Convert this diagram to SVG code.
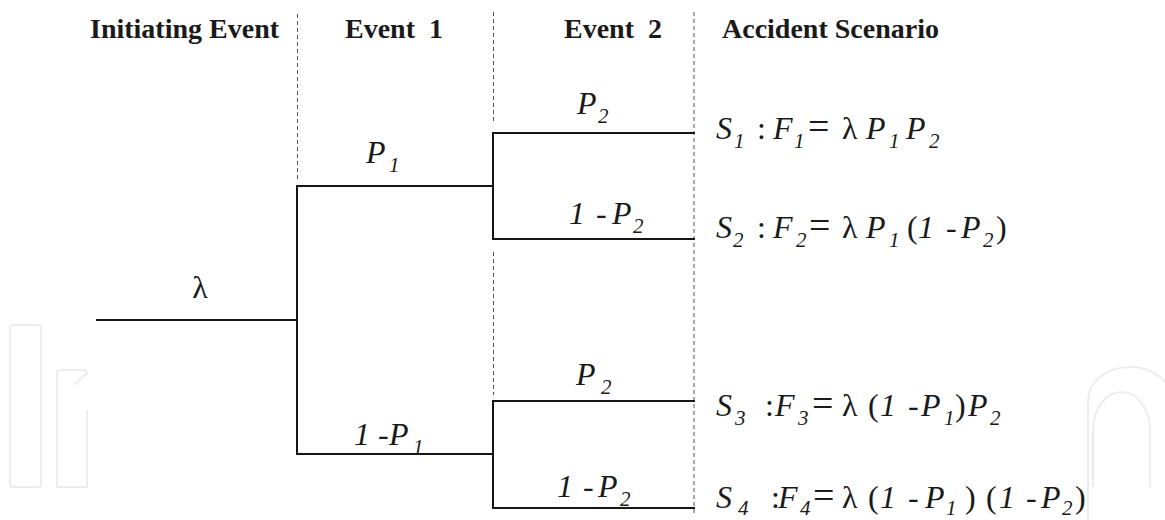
<svg xmlns="http://www.w3.org/2000/svg" width="1165" height="520" viewBox="0 0 1165 520">
<style>
.hd{font-family:"Liberation Serif","Times New Roman",serif;font-weight:bold;font-size:28px;fill:#1a1a1a;white-space:pre}
.m{font-family:"Liberation Serif","Times New Roman",serif;font-style:italic;font-size:32px;fill:#1a1a1a}
.u{font-style:normal}
.s{font-size:21px}
.eq{font-style:normal;font-size:38px}
.tree{stroke:#161616;stroke-width:2;fill:none;stroke-linecap:square}
.guide{stroke:#555;stroke-width:1;stroke-dasharray:4 3;fill:none}
.wm{stroke:#eceeee;stroke-width:2;fill:none}
</style>
<rect width="1165" height="520" fill="#ffffff"/>
<g id="watermark" class="wm">
<rect x="10" y="325" width="31" height="162" rx="3"/>
<path d="M57,487 V373 Q57,370 60,370 H84 Q87,370 87,373 L74,385 M87,410 V487 H57"/>
<path d="M1088,520 V400 A42,33 0 0 1 1172,400"/>
<path d="M1093,487 V430 A28.5,38 0 0 1 1150,430 V487"/>
</g>
<g id="guides" class="guide">
<line x1="297.5" y1="14" x2="297.5" y2="180"/>
<line x1="493.5" y1="12" x2="493.5" y2="122"/>
<line x1="493.5" y1="252" x2="493.5" y2="395"/>
<line x1="694" y1="12" x2="694" y2="513"/>
</g>
<g id="headers" class="hd">
<text id="h-initiating" xml:space="preserve" x="90" y="38">Initiating Event</text>
<text id="h-event1" xml:space="preserve" x="345" y="38">Event  1</text>
<text id="h-event2" xml:space="preserve" x="564" y="38">Event  2</text>
<text id="h-scenario" xml:space="preserve" x="722" y="38">Accident Scenario</text>
</g>
<g id="connectors" class="tree">
<path d="M97,320 H297"/>
<path d="M297,186 V454"/>
<path d="M297,186 H493"/>
<path d="M297,454 H493"/>
<path d="M493,133 V239"/>
<path d="M493,133 H694"/>
<path d="M493,239 H694"/>
<path d="M493,401 V508"/>
<path d="M493,401 H694"/>
<path d="M493,508 H694"/>
</g>
<g id="label-lambda"><text class="m u" x="200" y="298" text-anchor="middle">λ</text></g>
<g id="label-p1"><text class="m"><tspan x="366" y="163">P</tspan><tspan class="s" x="389" y="172">1</tspan></text></g>
<g id="label-1-p1"><text class="m"><tspan x="354" y="445">1</tspan><tspan class="u" x="378" y="445">-</tspan><tspan x="389" y="445">P</tspan><tspan class="s" x="413" y="454">1</tspan></text></g>
<g id="label-p2-top"><text class="m"><tspan x="577" y="114">P</tspan><tspan class="s" x="598" y="123">2</tspan></text></g>
<g id="label-1-p2-top"><text class="m"><tspan x="569" y="224">1</tspan><tspan class="u" x="596" y="224">-</tspan><tspan x="612" y="224">P</tspan><tspan class="s" x="633" y="233">2</tspan></text></g>
<g id="label-p2-bottom"><text class="m"><tspan x="576" y="385">P</tspan><tspan class="s" x="601" y="394">2</tspan></text></g>
<g id="label-1-p2-bottom"><text class="m"><tspan x="557" y="497">1</tspan><tspan class="u" x="583" y="497">-</tspan><tspan x="598" y="497">P</tspan><tspan class="s" x="620" y="506">2</tspan></text></g>
<g id="scenario-s1"><text class="m"><tspan x="716" y="139">S</tspan><tspan class="s" x="734" y="148">1</tspan><tspan class="u" x="757" y="139">:</tspan><tspan x="773" y="139">F</tspan><tspan class="s" x="794" y="148">1</tspan><tspan class="eq" x="808" y="139">=</tspan><tspan class="u" x="842" y="139">λ</tspan><tspan x="866" y="139">P</tspan><tspan class="s" x="889" y="148">1</tspan><tspan x="906" y="139">P</tspan><tspan class="s" x="929" y="148">2</tspan></text></g>
<g id="scenario-s2"><text class="m"><tspan x="716" y="238">S</tspan><tspan class="s" x="733" y="247">2</tspan><tspan class="u" x="757" y="238">:</tspan><tspan x="773" y="238">F</tspan><tspan class="s" x="796" y="247">2</tspan><tspan class="eq" x="809" y="238">=</tspan><tspan class="u" x="842" y="238">λ</tspan><tspan x="866" y="238">P</tspan><tspan class="s" x="889" y="247">1</tspan><tspan class="u" x="907" y="238">(</tspan><tspan x="918" y="238">1</tspan><tspan class="u" x="946" y="238">-</tspan><tspan x="961" y="238">P</tspan><tspan class="s" x="983" y="247">2</tspan><tspan class="u" x="996" y="238">)</tspan></text></g>
<g id="scenario-s3"><text class="m"><tspan x="716" y="416">S</tspan><tspan class="s" x="735" y="425">3</tspan><tspan class="u" x="765" y="416">:</tspan><tspan x="775" y="416">F</tspan><tspan class="s" x="798" y="425">3</tspan><tspan class="eq" x="812" y="416">=</tspan><tspan class="u" x="842" y="416">λ</tspan><tspan class="u" x="868" y="416">(</tspan><tspan x="880" y="416">1</tspan><tspan class="u" x="908" y="416">-</tspan><tspan x="921" y="416">P</tspan><tspan class="s" x="944" y="425">1</tspan><tspan class="u" x="955" y="416">)</tspan><tspan x="968" y="416">P</tspan><tspan class="s" x="990" y="425">2</tspan></text></g>
<g id="scenario-s4"><text class="m"><tspan x="716" y="508">S</tspan><tspan class="s" x="738" y="515">4</tspan><tspan class="u" x="771" y="508">:</tspan><tspan x="778" y="508">F</tspan><tspan class="s" x="800" y="515">4</tspan><tspan class="eq" x="813" y="508">=</tspan><tspan class="u" x="842" y="508">λ</tspan><tspan class="u" x="868" y="508">(</tspan><tspan x="880" y="508">1</tspan><tspan class="u" x="908" y="508">-</tspan><tspan x="925" y="508">P</tspan><tspan class="s" x="946" y="515">1</tspan><tspan class="u" x="965" y="508">)</tspan><tspan class="u" x="986" y="508">(</tspan><tspan x="999" y="508">1</tspan><tspan class="u" x="1026" y="508">-</tspan><tspan x="1041" y="508">P</tspan><tspan class="s" x="1062" y="515">2</tspan><tspan class="u" x="1075" y="508">)</tspan></text></g>
</svg>
